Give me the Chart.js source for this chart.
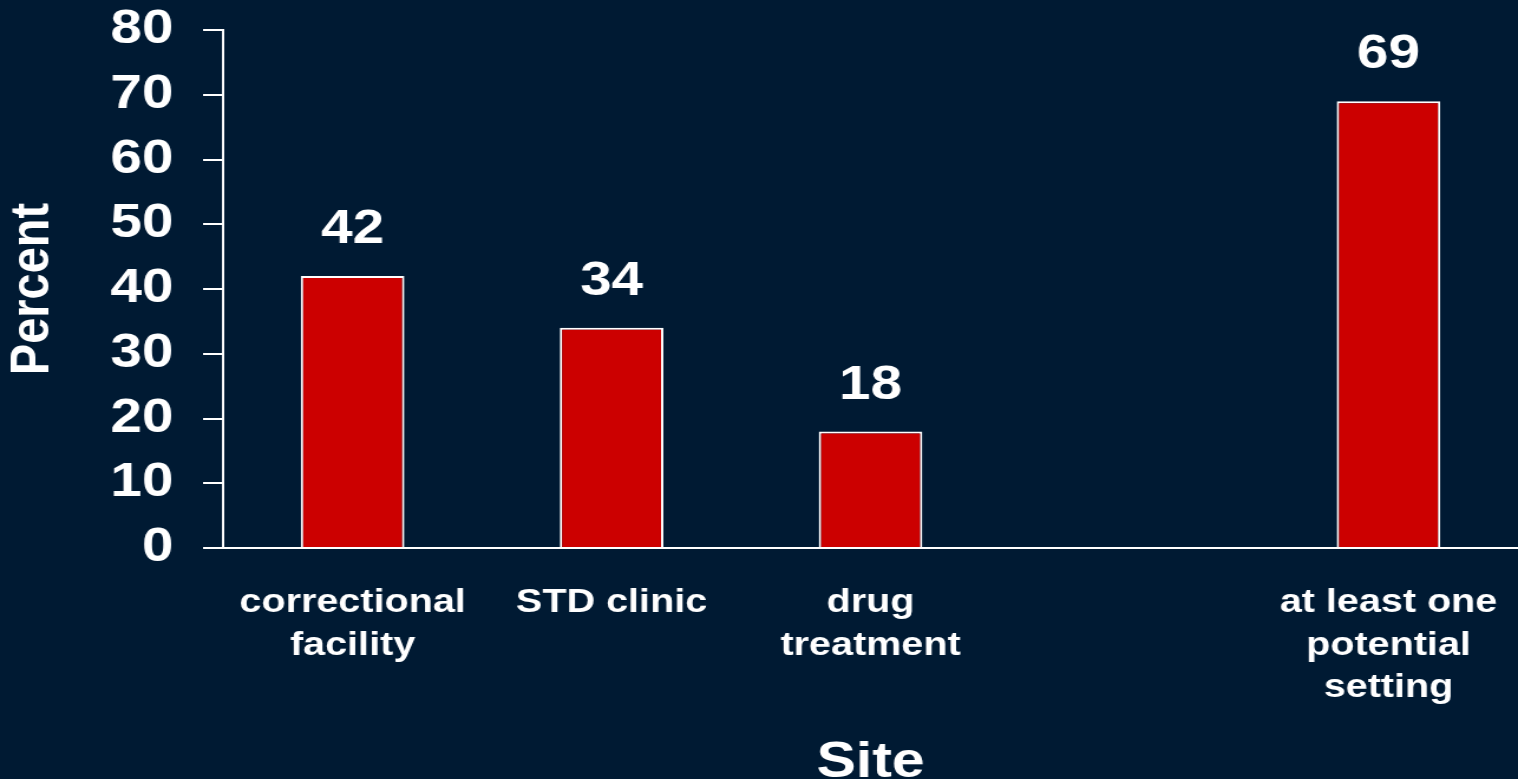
<!DOCTYPE html>
<html>
<head>
<meta charset="utf-8">
<script src="https://cdn.jsdelivr.net/npm/chart.js@4/dist/chart.umd.min.js"></script>
<style>
    html, body {
        margin: 0;
        padding: 0;
        background: #001a33;
        overflow: hidden;
    }
    /* the slide was laid out narrower and stretched sideways */
    .chart-box {
        width: 1286px;
        height: 779px;
        transform: scaleX(1.1804);
        transform-origin: 0 0;
    }
</style>
</head>
<body>
<div class="chart-box">
    <canvas id="siteChart"></canvas>
</div>
<script>
// Sites where people could have been reached
const sites = [
    ['correctional', 'facility'],
    'STD clinic',
    ['drug', 'treatment'],
    '',
    ['at least one', 'potential', 'setting']
];
const percents = [42, 34, 18, null, 69];
const yTicks = [0, 10, 20, 30, 40, 50, 60, 70, 80];

const fontFamily = '"Liberation Sans", Arial, sans-serif';

// Writes the value above each bar
const valueLabels = {
    id: 'valueLabels',
    afterDatasetsDraw(chart) {
        const ctx = chart.ctx;
        const meta = chart.getDatasetMeta(0);
        ctx.save();
        ctx.fillStyle = '#ffffff';
        ctx.font = 'bold 48px ' + fontFamily;
        ctx.textAlign = 'center';
        ctx.textBaseline = 'middle';
        meta.data.forEach((bar, i) => {
            const v = percents[i];
            if (v === null) return;
            ctx.fillText(String(v), bar.x, bar.y - 46);
        });
        ctx.restore();
    }
};

new Chart(document.getElementById('siteChart'), {
    type: 'bar',
    data: {
        labels: sites,
        datasets: [{
            label: 'Percent',
            data: percents,
            backgroundColor: '#cc0000',
            borderColor: '#ffffff',
            borderWidth: 2,
            categoryPercentage: 1,
            barPercentage: 0.4
        }]
    },
    options: {
        responsive: true,
        maintainAspectRatio: false,
        animation: false,
        layout: {
            padding: { top: 30, left: 0, right: 0, bottom: 0 }
        },
        plugins: {
            legend: { display: false },
            tooltip: { enabled: false }
        },
        scales: {
            x: {
                grid: { display: false, drawTicks: false },
                border: { display: true, color: '#ffffff', width: 2 },
                ticks: {
                    color: '#ffffff',
                    padding: 34,
                    maxRotation: 0,
                    autoSkip: false,
                    font: { family: fontFamily, size: 33.5, weight: 'bold', lineHeight: 1.26 }
                },
                title: {
                    display: true,
                    text: 'Site',
                    color: '#ffffff',
                    padding: 0,
                    font: { family: fontFamily, size: 50, weight: 'bold', lineHeight: 0.62 }
                },
                afterFit(scale) {
                    scale.height = 231;
                    scale.paddingLeft = 0;
                    scale.paddingRight = 0;
                }
            },
            y: {
                min: 0,
                max: 80,
                afterBuildTicks(scale) {
                    scale.ticks = yTicks.map(v => ({ value: v }));
                },
                grid: {
                    drawOnChartArea: false,
                    drawTicks: true,
                    tickLength: 17,
                    color: '#ffffff',
                    lineWidth: 2
                },
                border: { display: true, color: '#ffffff', width: 2 },
                ticks: {
                    color: '#ffffff',
                    padding: 25,
                    font: { family: fontFamily, size: 48, weight: 'bold' }
                },
                title: {
                    display: true,
                    text: 'Percent',
                    color: '#ffffff',
                    padding: 0,
                    font: { family: fontFamily, size: 47, weight: 'bold' }
                },
                afterFit(scale) {
                    scale.width = 189;
                    scale.paddingTop = 0;
                    scale.paddingBottom = 0;
                }
            }
        }
    },
    plugins: [valueLabels]
});
</script>
</body>
</html>
